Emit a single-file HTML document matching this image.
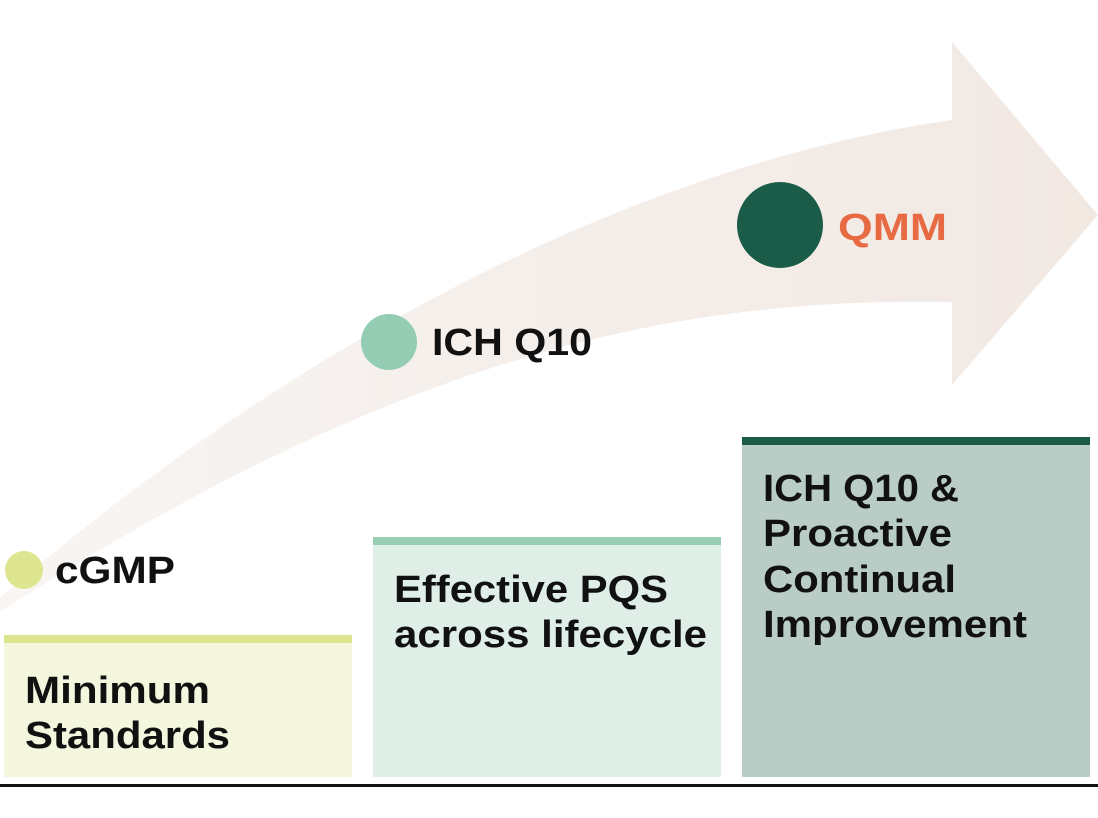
<!DOCTYPE html>
<html><head><meta charset="utf-8"><style>
html,body{margin:0;padding:0;background:#fff;width:1098px;height:818px;overflow:hidden}
text{font-family:"Liberation Sans",sans-serif;font-weight:bold;fill:#111}
</style></head><body>
<svg width="1098" height="818" viewBox="0 0 1098 818" xmlns="http://www.w3.org/2000/svg">
<defs><linearGradient id="g" x1="0" x2="1" y1="0" y2="0">
<stop offset="0" stop-color="#f8f5f3"/><stop offset="1" stop-color="#f1e8e2"/></linearGradient></defs>
<path d="M0,598 C250,380 600,170 952,120 L952,42 L1098,215 L952,385 L952,302 C700,298 420,340 0,612 Z" fill="url(#g)"/>
<rect x="4" y="635" width="348" height="142" fill="#f4f6de"/>
<rect x="4" y="635" width="348" height="8" fill="#dde58f"/>
<rect x="373" y="537" width="348" height="240" fill="#dfefe7"/>
<rect x="373" y="537" width="348" height="8" fill="#98cdb4"/>
<rect x="742" y="437" width="348" height="340" fill="#b9cdc6"/>
<rect x="742" y="437" width="348" height="8" fill="#1b5c48"/>
<rect x="0" y="784" width="1098" height="3" fill="#111"/>
<circle cx="24" cy="570" r="19" fill="#dde590"/>
<circle cx="389" cy="342" r="28" fill="#95cdb4"/>
<circle cx="780" cy="225" r="43" fill="#1b5c48"/>
<g font-size="38">
<text x="55" y="583" textLength="120" lengthAdjust="spacingAndGlyphs">cGMP</text>
<text x="432" y="355" textLength="160" lengthAdjust="spacingAndGlyphs">ICH Q10</text>
<text x="838" y="240" textLength="109" lengthAdjust="spacingAndGlyphs" style="fill:#e76a43">QMM</text>
<text x="25" y="703" textLength="185" lengthAdjust="spacingAndGlyphs">Minimum</text>
<text x="25" y="748" textLength="205" lengthAdjust="spacingAndGlyphs">Standards</text>
<text x="394" y="602" textLength="274" lengthAdjust="spacingAndGlyphs">Effective PQS</text>
<text x="394" y="647" textLength="313" lengthAdjust="spacingAndGlyphs">across lifecycle</text>
<text x="763" y="501" textLength="196" lengthAdjust="spacingAndGlyphs">ICH Q10 &amp;</text>
<text x="763" y="546" textLength="189" lengthAdjust="spacingAndGlyphs">Proactive</text>
<text x="763" y="592" textLength="193" lengthAdjust="spacingAndGlyphs">Continual</text>
<text x="763" y="637" textLength="264" lengthAdjust="spacingAndGlyphs">Improvement</text>
</g>
</svg>
</body></html>
